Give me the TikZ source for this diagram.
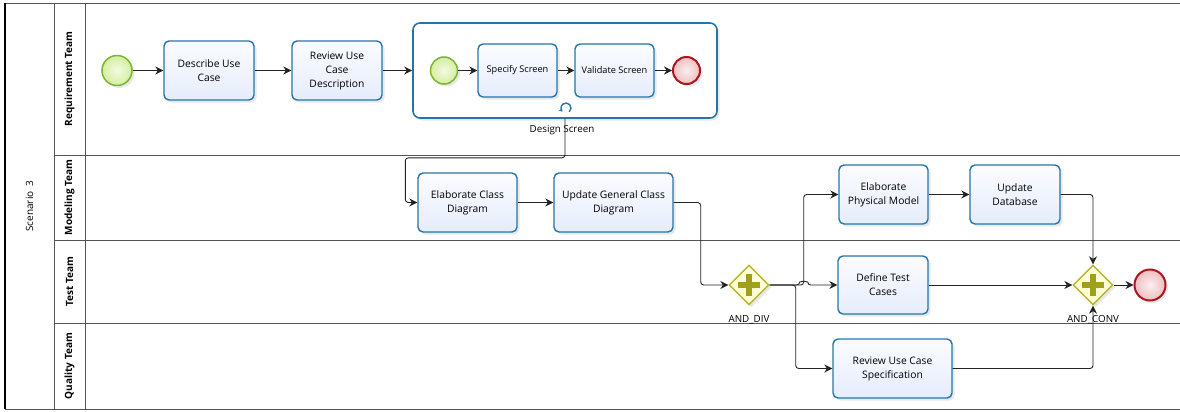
\documentclass[tikz,border=0pt]{standalone}
\usepackage{fontspec}
\setmainfont{Open Sans}
\usetikzlibrary{arrows.meta,shapes.geometric,shadows}
\definecolor{tborder}{RGB}{36,118,170}
\definecolor{ttop}{RGB}{251,252,255}
\definecolor{tbot}{RGB}{229,236,251}
\definecolor{sborder}{RGB}{122,182,46}
\definecolor{sfill}{RGB}{214,238,160}
\definecolor{eborder}{RGB}{170,24,30}
\definecolor{efill}{RGB}{238,190,192}
\definecolor{gborder}{RGB}{182,182,40}
\definecolor{gfill}{RGB}{255,255,205}
\definecolor{gplus}{RGB}{160,160,30}
\definecolor{lanec}{RGB}{85,85,85}
\definecolor{flowc}{RGB}{35,35,35}
\begin{document}
\begin{tikzpicture}[x=1pt,y=-1pt,
  shadowed/.style={drop shadow={shadow xshift=2.5pt,shadow yshift=-2.5pt,opacity=0.18}},
  task/.style={shadowed,draw=tborder,line width=1.4pt,rounded corners=5pt,
    top color=ttop,bottom color=tbot,minimum height=59pt,inner sep=1pt,
    align=center,font=\fontsize{10.3}{14}\selectfont},
  subtask/.style={task,minimum width=79pt,minimum height=53pt,font=\fontsize{9.2}{11}\selectfont},
  startev/.style={shadowed,circle,draw=sborder,line width=1.5pt,inner color=sfill!30!white,
    outer color=sfill,minimum size=30pt,inner sep=0pt},
  endev/.style={shadowed,circle,draw=eborder,line width=2pt,inner color=efill!25!white,
    outer color=efill,minimum size=31pt,inner sep=0pt},
  gate/.style={shadowed,diamond,draw=gborder,line width=1.4pt,top color=gfill!50!white,bottom color=gfill,
    minimum width=40pt,minimum height=40pt,inner sep=0pt},
  flow/.style={draw=flowc,line width=0.9pt,rounded corners=3pt,-{Stealth[length=8pt,width=8pt]}},
  lane/.style={draw=lanec,line width=0.9pt},
  lanelabel/.style={rotate=90,font=\fontsize{10}{11}\bfseries\selectfont},
  lbl/.style={font=\fontsize{9.8}{11}\selectfont,inner sep=0pt}
]
\useasboundingbox (0,0) rectangle (1180,412);
% pool and lanes
\draw[lane] (5,3) -- (1180,3);
\draw[lane] (5,409) -- (1180,409);
\draw[lane] (54,155) -- (1180,155);
\draw[lane] (54,240) -- (1180,240);
\draw[lane] (54,323) -- (1180,323);
\draw[lane] (54,3) -- (54,409);
\draw[lane] (85,3) -- (85,409);
\draw[black,line width=1.2pt] (5,3) -- (5,409);
\node[rotate=90,font=\fontsize{10}{11}\selectfont] (pool) at (29.5,206) {Scenario\ \ 3};
\node[lanelabel] (lreq) at (69.5,79) {Requirement Team};
\node[lanelabel] (lmod) at (69.5,197.5) {Modeling Team};
\node[lanelabel] (ltest) at (69.5,281.5) {Test Team};
\node[lanelabel] (lqual) at (69.5,366) {Quality\ Team};

% requirement lane
\node[startev] (s1) at (117,70.5) {};
\node[task,minimum width=90pt] (t1) at (209,70.5) {Describe Use\\Case};
\node[task,minimum width=90pt] (t2) at (337,70.5) {Review Use\\Case\\Description};
\node[shadowed,draw=tborder,line width=1.6pt,rounded corners=7pt,fill=white,
      minimum width=304pt,minimum height=95pt] (sub) at (565,70.5) {};
\node[startev,minimum size=27pt] (s2) at (444,70.5) {};
\node[subtask] (t3) at (517.5,70.5) {Specify Screen};
\node[subtask] (t4) at (614.5,70.5) {Validate Screen};
\node[endev,minimum size=27pt] (e2) at (686.5,70.5) {};
\coordinate (loopc) at (566,108);
\draw[tborder,line width=1.4pt,-{Stealth[length=3.5pt,width=4.5pt]}] (loopc) ++(-50:5pt) arc[start angle=-50,end angle=225,radius=5pt];
\node[lbl] (sublbl) at (562,130) {Design Screen};

% modeling lane
\node[task,minimum width=99pt] (t5) at (467.5,202.5) {Elaborate Class\\Diagram};
\node[task,minimum width=119pt] (t6) at (613.5,202.5) {Update General Class\\Diagram};
\node[task,minimum width=89pt] (t7) at (883.5,194.5) {Elaborate\\Physical Model};
\node[task,minimum width=90pt] (t8) at (1015,194.5) {Update\\Database};

% test lane
\node[gate] (g1) at (749,285) {};
\node[task,minimum width=90pt,minimum height=58pt] (t9) at (883,285) {Define Test\\Cases};
\node[gate] (g2) at (1093,285) {};
\node[endev] (e1) at (1150,285) {};
\node[lbl] (g1lbl) at (749,320) {AND\_DIV};
\node[lbl] (g2lbl) at (1093,320) {AND\_CONV};
\foreach \g in {g1,g2}{
  \draw[gplus,line width=6pt] ([xshift=-11pt]\g.center) -- ([xshift=11pt]\g.center);
  \draw[gplus,line width=6pt] ([yshift=-11pt]\g.center) -- ([yshift=11pt]\g.center);
}

% quality lane
\node[task,minimum width=119pt] (t10) at (892.5,368.5) {Review Use Case\\Specification};

% flows
\draw[flow] (s1) -- (t1);
\draw[flow] (t1) -- (t2);
\draw[flow] (t2) -- (sub);
\draw[flow] (s2) -- (t3);
\draw[flow] (t3) -- (t4);
\draw[flow] (t4) -- (e2);
\draw[flow] (sub.south) -- ++(0,39) -| ([xshift=-12pt]t5.west) -- (t5.west);
\draw[flow] (t5) -- (t6);
\draw[flow] (t6.east) -- ++(27,0) |- (g1.west);
\draw[flow] (g1.east) -- ++(30,0) arc[start angle=180,end angle=0,radius=4pt] -- (t9.west);
\draw[flow] (g1.east) -- ++(34,0) |- (t7.west);
\draw[flow] (g1.east) -- ++(26,0) |- (t10.west);
\draw[flow] (t7) -- (t8);
\draw[flow] (t8.east) -| (g2.north);
\draw[flow] (t9) -- (g2);
\draw[flow] (t10.east) -| (g2.south);
\draw[flow] (g2) -- (e1);
\end{tikzpicture}
\end{document}
